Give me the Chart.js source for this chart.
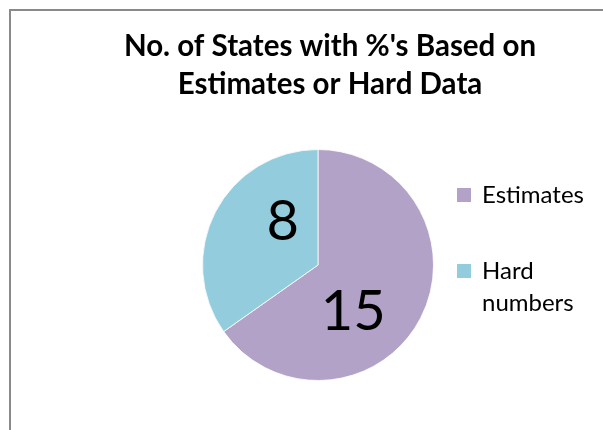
<!DOCTYPE html>
<html>
<head>
<meta charset="utf-8">
<title>No. of States with %'s Based on Estimates or Hard Data</title>
<script src="https://cdn.jsdelivr.net/npm/chart.js@4/dist/chart.umd.min.js"></script>
<style>
  html, body { margin: 0; padding: 0; background: #ffffff; }
  #wrap { width: 603px; height: 430px; }
</style>
</head>
<body>
<div id="wrap"><canvas id="pie" width="603" height="430"></canvas></div>
<script>
// Chart data
const titleLines = ["No. of States with %'s Based on", "Estimates or Hard Data"];
const categories = ["Estimates", "Hard numbers"];
const legendLines = [["Estimates"], ["Hard", "numbers"]];
const stateCounts = [15, 8];
const sliceColors = ["#B3A2C7", "#93CDDD"];

const FONT = "Lato, 'Open Sans', sans-serif";

// Grey frame around the chart object
const framePlugin = {
  id: 'frame',
  beforeDraw(chart) {
    const ctx = chart.ctx;
    ctx.save();
    ctx.fillStyle = '#ffffff';
    ctx.fillRect(0, 0, chart.width, chart.height);
    ctx.strokeStyle = '#8a8a8a';
    ctx.lineWidth = 2;
    ctx.strokeRect(10, 10, chart.width + 50, chart.height + 50);
    ctx.restore();
  }
};

// Two-line bold title centred over the frame
const titlePlugin = {
  id: 'frameTitle',
  afterDraw(chart) {
    const ctx = chart.ctx;
    ctx.save();
    ctx.fillStyle = '#000000';
    ctx.font = "bold 29.5px " + FONT;
    ctx.textAlign = 'center';
    ctx.textBaseline = 'alphabetic';
    titleLines.forEach((line, i) => ctx.fillText(line, 330, 56 + i * 37.5));
    ctx.restore();
  }
};

// Legend to the right of the pie
const sideLegendPlugin = {
  id: 'sideLegend',
  afterDraw(chart) {
    const ctx = chart.ctx;
    const area = chart.chartArea;
    const x0 = area.right + 23;
    const rowBases = [203, 279];
    ctx.save();
    ctx.font = "24px " + FONT;
    ctx.textAlign = 'left';
    ctx.textBaseline = 'alphabetic';
    categories.forEach((cat, i) => {
      const base = rowBases[i];
      ctx.fillStyle = sliceColors[i];
      ctx.fillRect(x0, base - 15, 14, 14);
      ctx.fillStyle = '#000000';
      legendLines[i].forEach((t, j) => ctx.fillText(t, x0 + 25, base + j * 31.5));
    });
    ctx.restore();
  }
};

// Value labels inside each slice
const valueLabelPlugin = {
  id: 'valueLabels',
  afterDatasetsDraw(chart) {
    const ctx = chart.ctx;
    const meta = chart.getDatasetMeta(0);
    ctx.save();
    ctx.fillStyle = '#000000';
    ctx.font = "56px " + FONT;
    ctx.textAlign = 'center';
    ctx.textBaseline = 'alphabetic';
    meta.data.forEach((arc, i) => {
      const p = arc.getProps(['x', 'y', 'startAngle', 'endAngle', 'outerRadius'], true);
      const a = (p.startAngle + p.endAngle) / 2 + 0.425;
      const r = p.outerRadius * 0.494;
      const cx = p.x + Math.cos(a) * r;
      const cy = p.y + Math.sin(a) * r;
      ctx.fillText(String(stateCounts[i]), cx, cy + 20);
    });
    ctx.restore();
  }
};

new Chart(document.getElementById('pie'), {
  type: 'pie',
  data: {
    labels: categories,
    datasets: [{
      data: stateCounts,
      backgroundColor: sliceColors,
      borderColor: 'rgba(255,255,255,0.8)',
      borderWidth: 1
    }]
  },
  options: {
    responsive: false,
    animation: false,
    layout: { padding: { left: 202, right: 169, top: 149, bottom: 49 } },
    plugins: {
      legend: { display: false },
      title: { display: false },
      tooltip: { enabled: false }
    }
  },
  plugins: [framePlugin, titlePlugin, sideLegendPlugin, valueLabelPlugin]
});
</script>
</body>
</html>
